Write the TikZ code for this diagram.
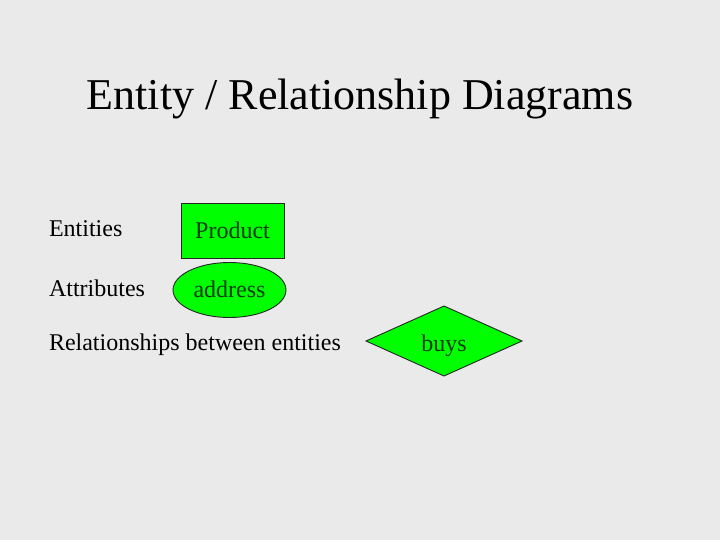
\documentclass[tikz,border=0pt]{standalone}
\usepackage{fontspec}
\setmainfont{Liberation Serif}
\usepackage{xcolor}
\definecolor{slidegray}{HTML}{EAEAEA}
\definecolor{ergreen}{HTML}{00FF00}
\definecolor{ertext}{HTML}{0A3A0A}
\usetikzlibrary{shapes.geometric}

\begin{document}
\begin{tikzpicture}[x=1pt,y=-1pt,
  every node/.style={inner sep=0pt,outer sep=0pt},
  label/.style={anchor=west,font=\fontsize{24}{28}\selectfont},
  ershape/.style={draw=black!85,line width=0.9pt,fill=ergreen,text=ertext,text depth=0pt,font=\fontsize{24}{28}\selectfont}]
\fill[slidegray] (0,0) rectangle (720,540);
\useasboundingbox (0,0) rectangle (720,540);
\node (title) at (360,99) {\fontsize{44}{50}\selectfont Entity / Relationship Diagrams};
\node[label] (ent) at (49,229) {Entities};
\node[label] (att) at (49,288) {Attributes};
\node[label] (rel) at (49,345) {Relationships between entities};
% shapes
\node[ershape,rectangle,text height=15pt,minimum width=103,minimum height=55] (prod) at (232.5,230.5) {Product};
\node[ershape,ellipse,text height=14pt,minimum width=113,minimum height=55] (addr) at (229.5,290) {address};
\node[ershape,diamond,text height=20pt,aspect=2.2,minimum width=156,minimum height=70] (buys) at (444,341) {buys};
\end{tikzpicture}
\end{document}
